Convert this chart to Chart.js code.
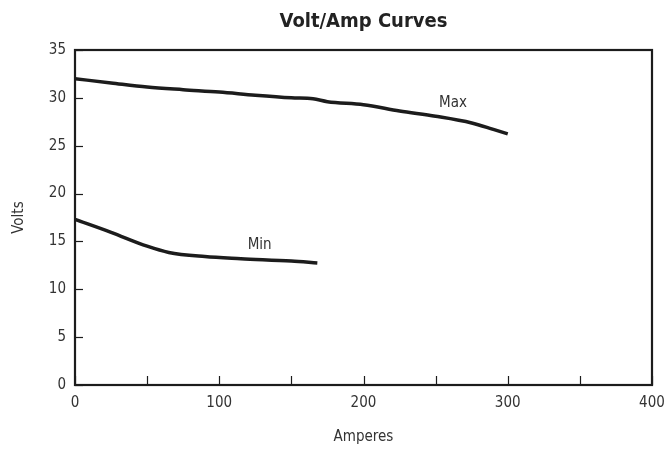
<!DOCTYPE html>
<html>
<head>
<meta charset="utf-8">
<script src="https://cdn.jsdelivr.net/npm/chart.js@4"></script>
<style>
  html, body { margin: 0; padding: 0; background: #fff; }
  #wrap { width: 666px; height: 451px; }
</style>
</head>
<body>
<div id="wrap"><canvas id="voltChart" width="666" height="451"></canvas></div>
<script>
// dados
const chartTitle = 'Volt/Amp Curves';
const maxAmps = [0, 25, 50, 75, 100, 125, 150, 165, 175, 200, 225, 250, 275, 290, 300];
const maxVolts = [32, 31.56, 31.13, 30.85, 30.6, 30.27, 30.0, 29.9, 29.6, 29.28, 28.62, 28.08, 27.38, 26.7, 26.23];
const minAmps = [0, 25, 50, 65, 90, 115, 150, 168];
const minVolts = [17.3, 15.95, 14.5, 13.85, 13.42, 13.2, 12.95, 12.75];
const xTicks = [0, 100, 200, 300, 400];
const yTicks = [0, 5, 10, 15, 20, 25, 30, 35];
const curveLabels = [
    { text: 'Max', x: 262, y: 29.47 },
    { text: 'Min', x: 128, y: 14.64 }
];

const FONT = "'Liberation Sans Narrow', 'DejaVu Sans Condensed', 'Arial Narrow', sans-serif";
const INK = '#1c1c1c';
const TEXT = '#333';

function toPoints(xs, ys) {
    return xs.map((x, i) => ({ x: x, y: ys[i] }));
}

// plugin para moldura, ticks internos, título e rótulos das curvas
const decorPlugin = {
    id: 'decor',
    afterDraw(chart) {
        const ctx = chart.ctx;
        const area = chart.chartArea;
        const xs = chart.scales.x;
        const ys = chart.scales.y;
        ctx.save();
        ctx.strokeStyle = INK;
        ctx.lineWidth = 1.2;
        // ticks do eixo x (a cada 50, para dentro)
        xs.ticks.forEach(t => {
            const px = Math.round(xs.getPixelForValue(t.value)) + 0.5;
            ctx.beginPath();
            ctx.moveTo(px, area.bottom);
            ctx.lineTo(px, area.bottom - 9);
            ctx.stroke();
        });
        ys.ticks.forEach(t => {
            const py = Math.round(ys.getPixelForValue(t.value)) + 0.5;
            ctx.beginPath();
            ctx.moveTo(area.left, py);
            ctx.lineTo(area.left + 8, py);
            ctx.stroke();
        });
        // moldura
        ctx.lineWidth = 2.2;
        ctx.strokeRect(area.left, area.top, area.right - area.left, area.bottom - area.top);
        // título
        ctx.fillStyle = '#222';
        ctx.font = 'bold 20px ' + FONT;
        ctx.textAlign = 'center';
        ctx.textBaseline = 'middle';
        ctx.fillText(chartTitle, (area.left + area.right) / 2, 22);
        // rótulos das curvas
        ctx.fillStyle = TEXT;
        ctx.font = '15px ' + FONT;
        curveLabels.forEach(l => {
            ctx.fillText(l.text, xs.getPixelForValue(l.x), ys.getPixelForValue(l.y));
        });
        ctx.restore();
    }
};

const ctx = document.getElementById('voltChart').getContext('2d');
new Chart(ctx, {
    type: 'line',
    data: {
        datasets: [
            {
                label: 'Max',
                data: toPoints(maxAmps, maxVolts),
                borderColor: INK,
                borderWidth: 3.5,
                pointRadius: 0,
                cubicInterpolationMode: 'monotone',
                fill: false
            },
            {
                label: 'Min',
                data: toPoints(minAmps, minVolts),
                borderColor: INK,
                borderWidth: 3.5,
                pointRadius: 0,
                cubicInterpolationMode: 'monotone',
                fill: false
            }
        ]
    },
    options: {
        responsive: false,
        animation: false,
        layout: { padding: { top: 50, right: 14, left: 0, bottom: 0 } },
        plugins: {
            legend: { display: false },
            tooltip: { enabled: false },
            title: { display: false }
        },
        scales: {
            x: {
                type: 'linear',
                min: 0,
                max: 400,
                grid: { display: false, drawTicks: false },
                border: { display: false },
                ticks: {
                    stepSize: 50,
                    autoSkip: false,
                    maxRotation: 0,
                    padding: 9,
                    color: TEXT,
                    font: { family: FONT, size: 15 },
                    callback: v => xTicks.includes(v) ? String(v) : ''
                },
                title: {
                    display: true,
                    text: 'Amperes',
                    color: TEXT,
                    font: { family: FONT, size: 15 },
                    padding: { top: 0, bottom: 5 }
                },
                afterFit: s => {
                    s.height = 66;
                    s.paddingLeft = 0;
                    s.paddingRight = 0;
                }
            },
            y: {
                type: 'linear',
                min: 0,
                max: 35,
                grid: { display: false, drawTicks: false },
                border: { display: false },
                ticks: {
                    stepSize: 5,
                    padding: 9,
                    color: TEXT,
                    font: { family: FONT, size: 15 },
                    callback: v => yTicks.includes(v) ? String(v) : ''
                },
                title: {
                    display: true,
                    text: 'Volts',
                    color: TEXT,
                    font: { family: FONT, size: 15 },
                    padding: { top: 10, bottom: 0 }
                },
                afterFit: s => {
                    s.width = 75;
                    s.paddingTop = 0;
                    s.paddingBottom = 0;
                }
            }
        }
    },
    plugins: [decorPlugin]
});
</script>
</body>
</html>
